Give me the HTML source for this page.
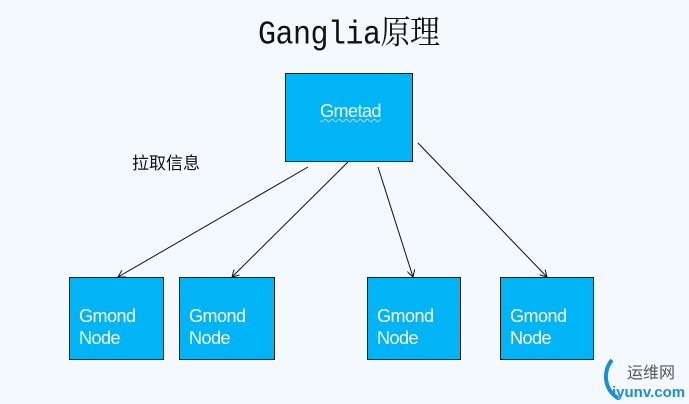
<html><head><style>
body{margin:0;width:689px;height:404px;background:#f4f9fd;position:relative;overflow:hidden;font-family:"Liberation Sans",sans-serif}
.b{position:absolute;background:#00b4f5;border:1px solid #1a1a1a;box-sizing:border-box;color:#fff;font-size:18px}
.g{position:absolute;left:9px;top:27px;line-height:22px;letter-spacing:-0.5px}
.t{position:absolute;left:258px;top:7px;font-family:"Liberation Mono","Noto Serif CJK SC",monospace;font-size:30px;color:#111;transform:scaleY(1.1);letter-spacing:-0.5px}
</style></head><body>
<div class="t">Ganglia原理</div>
<div style="position:absolute;left:132px;top:149px;font-size:17px;font-family:'Noto Sans CJK SC',sans-serif;color:#111">拉取信息</div>
<div class="b" style="left:285px;top:73px;width:128px;height:89px"><div style="position:absolute;left:34px;top:27px;text-decoration:underline wavy #cfcfcf 1px;letter-spacing:-0.5px">Gmetad</div></div>
<div class="b" style="left:69px;top:277px;width:95px;height:83px"><div class="g">Gmond<br>Node</div></div>
<div class="b" style="left:179px;top:277px;width:96px;height:83px"><div class="g">Gmond<br>Node</div></div>
<div class="b" style="left:367px;top:277px;width:94px;height:83px"><div class="g">Gmond<br>Node</div></div>
<div class="b" style="left:500px;top:277px;width:94px;height:83px"><div class="g">Gmond<br>Node</div></div>
<svg width="689" height="404" style="position:absolute;left:0;top:0">
<defs><marker id="a" markerWidth="8" markerHeight="8" refX="7" refY="4" orient="auto" markerUnits="userSpaceOnUse"><path d="M0,0 L7,4 L0,8" fill="none" stroke="#111" stroke-width="1"/></marker></defs>
<g stroke="#111" stroke-width="1" marker-end="url(#a)">
<line x1="308" y1="167" x2="118" y2="277"/>
<line x1="348" y1="162" x2="232" y2="277"/>
<line x1="378" y1="167" x2="413" y2="277"/>
<line x1="418" y1="143" x2="547" y2="277"/>
</g>
<path d="M612,360 A22,24 0 0 0 618,398" fill="none" stroke="#1a8fd8" stroke-width="4"/>
<text x="627" y="378" font-family="Noto Sans CJK SC" font-size="16" fill="#555">运维网</text>
<text x="612" y="397" font-family="Liberation Sans" font-weight="bold" font-size="15" fill="#1a8fd8">iyunv.com</text>
</svg>
</body></html>
